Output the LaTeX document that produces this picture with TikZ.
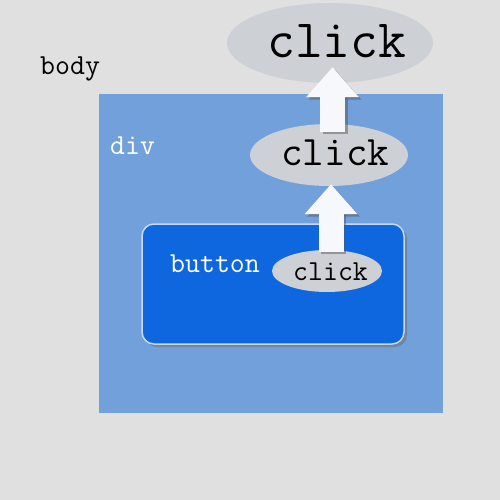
\documentclass[tikz,border=0pt]{standalone}
\usepackage{xcolor}
\usetikzlibrary{shapes.geometric, arrows.meta}
\definecolor{bodygray}{HTML}{E0E0E0}
\definecolor{divblue}{HTML}{72A0DA}
\definecolor{btnblue}{HTML}{0F67DF}
\definecolor{btnedge}{HTML}{C6D9F4}
\definecolor{evtgray}{HTML}{CDD0D4}
\definecolor{arrwhite}{HTML}{F6F8FC}
\tikzset{
  evt/.style={ellipse, fill=evtgray, inner sep=0pt},
  lbl/.style={font=\ttfamily\fontsize{29}{29}\selectfont, inner sep=0pt, anchor=base west},
  bubble/.style={line width=25pt, draw=arrwhite, -{Triangle[length=30pt, width=51pt]}},
  bubbleshadow/.style={line width=25pt, draw=black!65, opacity=.5,
    -{Triangle[length=30pt, width=51pt]}, transform canvas={shift={(2.5pt,-2.5pt)}}}
}
\begin{document}
\begin{tikzpicture}[x=1pt, y=-1pt]
\useasboundingbox (0, 0) rectangle (500, 500);
% body
\fill[bodygray] (0, 0) rectangle (500, 500);
\node[lbl] (bodytxt) at (40, 75) {body};
% div
\fill[divblue] (99, 94) rectangle (443, 413);
\node[lbl, text=white] (divtxt) at (110, 154) {div};
% button
\fill[black!55, opacity=.6, rounded corners=12] (145, 227) rectangle (407, 347);
\draw[fill=btnblue, draw=btnedge, line width=1.5pt, rounded corners=12] (142, 224) rectangle (404, 344);
\node[lbl, text=white] (btntxt) at (170, 272) {button};
% 事件冒泡
\node[evt, minimum width=110, minimum height=42] (low) at (327, 271) {};
\node[evt, minimum width=158, minimum height=62] (mid) at (329, 155) {};
\node[evt, minimum width=206, minimum height=80] (top) at (330, 43) {};
\node[lbl] (lowtxt) at (293, 280) {click};
\node[lbl, font=\ttfamily\fontsize{42}{42}\selectfont] (midtxt) at (281, 165) {click};
\node[lbl, font=\ttfamily\fontsize{54}{54}\selectfont] (toptxt) at (267, 58) {click};
% arrows
\draw[bubbleshadow, shorten <=-2pt, shorten >=-2pt] ([xshift=4pt]low.north) -- ([xshift=4pt]low.north |- mid.south);
\draw[bubble, shorten <=-2pt, shorten >=-2pt] ([xshift=4pt]low.north) -- ([xshift=4pt]low.north |- mid.south);
\draw[bubbleshadow, shorten <=-8pt, shorten >=-16pt] ([xshift=3.5pt]mid.north) -- ([xshift=3.5pt]mid.north |- top.south);
\draw[bubble, shorten <=-8pt, shorten >=-16pt] ([xshift=3.5pt]mid.north) -- ([xshift=3.5pt]mid.north |- top.south);
\end{tikzpicture}
\end{document}
